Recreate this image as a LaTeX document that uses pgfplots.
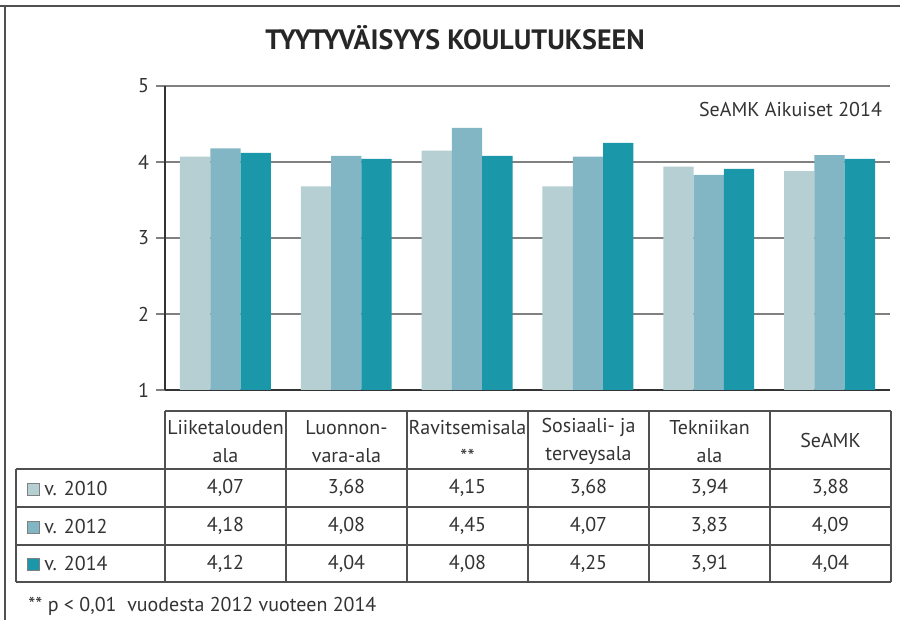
\documentclass[border=0pt]{standalone}
\usepackage{pgfplots}
\pgfplotsset{compat=1.18}
\usepackage{fontspec}
\setmainfont{PT Sans}
\definecolor{c10}{HTML}{B5CFD3}
\definecolor{c12}{HTML}{82B6C5}
\definecolor{c14}{HTML}{1A97A8}
\definecolor{txt}{HTML}{333333}
\definecolor{gridc}{HTML}{808080}
\definecolor{tline}{HTML}{505050}

\pgfplotstableread{
x y
0 4.07
1 3.68
2 4.15
3 3.68
4 3.94
5 3.88
}\dataA
\pgfplotstableread{
x y
0 4.18
1 4.08
2 4.45
3 4.07
4 3.83
5 4.09
}\dataB
\pgfplotstableread{
x y
0 4.12
1 4.04
2 4.08
3 4.25
4 3.91
5 4.04
}\dataC

\begin{document}
\begin{tikzpicture}[x=0.5pt,y=0.5pt,font=\fontsize{10}{12}\selectfont,text=txt]
\path[use as bounding box] (0,0) rectangle (900,620);
\draw[tline, line width=0.8pt] (0,614) -- (900,614);
\draw[tline, line width=0.8pt] (5,614) -- (5,0);
\node[font=\fontsize{14}{16}\selectfont\bfseries, text=black!85] at (455,582) {TYYTYVÄISYYS KOULUTUKSEEN};
\begin{axis}[at={(82.5pt,115pt)}, anchor=south west, scale only axis,
  width=362.5pt, height=152pt,
  xmin=-0.5, xmax=5.5, ymin=1, ymax=5,
  ytick={1,2,3,4,5}, xtick=\empty,
  axis x line*=bottom, axis y line*=left,
  axis line style={txt, line width=0.6pt},
  ymajorgrids, grid style={gridc, line width=0.8pt},
  tick align=outside, major tick length=4.5pt,
  tick style={gridc, line width=0.8pt},
  tick label style={font=\fontsize{10}{12}\selectfont, text=txt},
  /pgf/number format/assume math mode=true,
  ybar=0pt, bar width=15.15pt,
  clip=true,
]
\addplot[draw=none, fill=c10] table[x=x,y=y] {\dataA};
\addplot[draw=none, fill=c12] table[x=x,y=y] {\dataB};
\addplot[draw=none, fill=c14] table[x=x,y=y] {\dataC};
\end{axis}
\node[anchor=east] at (889,510) {SeAMK Aikuiset 2014};

% table grid
\begin{scope}[tline, line width=0.6pt]
\draw (165,209) -- (891,209);
\foreach \yy in {151,113,75,38} \draw (16,\yy) -- (891,\yy);
\draw (16,151) -- (16,38);
\foreach \xx in {165,286,407,528,649,770,891} \draw (\xx,209) -- (\xx,38);
\end{scope}
% header
\node at (225.5,192) {Liiketalouden};
\node at (225.5,164) {ala};
\node at (346.5,192) {Luonnon-};
\node at (346.5,164) {vara-ala};
\node at (467.5,192) {Ravitsemisala};
\node at (467.5,164) {**};
\node at (588.5,192) {Sosiaali- ja};
\node at (588.5,164) {terveysala};
\node at (709.5,192) {Tekniikan};
\node at (709.5,164) {ala};
\node at (830.5,179) {SeAMK};
% legend column
\draw[gridc, fill=c10, line width=0.5pt] (27,124) rectangle (39,136);
\draw[gridc, fill=c12, line width=0.5pt] (27,86) rectangle (39,98);
\draw[gridc, fill=c14, line width=0.5pt] (27,49) rectangle (39,61);
\node[anchor=west, inner sep=0pt] at (44,131) {v. 2010};
\node[anchor=west, inner sep=0pt] at (44,93) {v. 2012};
\node[anchor=west, inner sep=0pt] at (44,56) {v. 2014};
% values
\node at (225.5,132) {4,07}; \node at (346.5,132) {3,68}; \node at (467.5,132) {4,15};
\node at (588.5,132) {3,68}; \node at (709.5,132) {3,94}; \node at (830.5,132) {3,88};
\node at (225.5,94) {4,18}; \node at (346.5,94) {4,08}; \node at (467.5,94) {4,45};
\node at (588.5,94) {4,07}; \node at (709.5,94) {3,83}; \node at (830.5,94) {4,09};
\node at (225.5,56.5) {4,12}; \node at (346.5,56.5) {4,04}; \node at (467.5,56.5) {4,08};
\node at (588.5,56.5) {4,25}; \node at (709.5,56.5) {3,91}; \node at (830.5,56.5) {4,04};
\node[anchor=west, inner sep=0pt] at (28,14) {** p < 0,01~~vuodesta 2012 vuoteen 2014};
\end{tikzpicture}
\end{document}
